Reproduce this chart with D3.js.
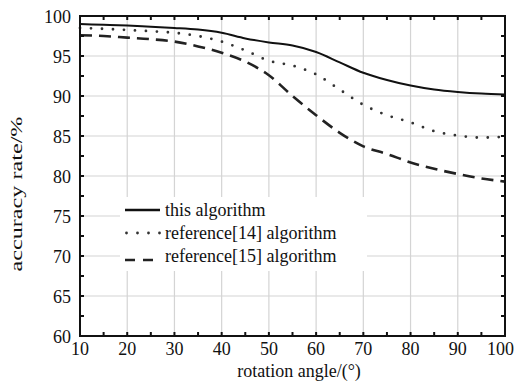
<!DOCTYPE html>
<html>
<head>
<meta charset="utf-8">
<script src="https://cdn.jsdelivr.net/npm/d3@7"></script>
<style>
  body { margin: 0; background: #fff; }
</style>
</head>
<body>
<div id="chart"></div>
<script>
// rotation angle (deg)
const angles = [10, 15, 20, 25, 30, 35, 40, 45, 50, 55, 60, 65, 70, 75, 80, 85, 90, 95, 100]
// accuracy rate (%)
const thisAlgo = [99.0, 98.9, 98.8, 98.65, 98.5, 98.3, 97.9, 97.2, 96.7, 96.3, 95.5, 94.2, 92.9, 92.0, 91.3, 90.8, 90.5, 90.3, 90.2]
const ref14 = [98.5, 98.4, 98.25, 98.1, 97.9, 97.5, 96.8, 95.7, 94.4, 93.8, 92.7, 90.8, 88.9, 87.6, 86.7, 85.6, 85.05, 84.8, 84.9]
const ref15 = [97.6, 97.5, 97.3, 97.1, 96.8, 96.2, 95.4, 94.3, 92.6, 90.0, 87.6, 85.4, 83.7, 82.75, 81.7, 80.9, 80.25, 79.7, 79.3]

const xTicks = [10, 20, 30, 40, 50, 60, 70, 80, 90, 100]
const yTicks = [60, 65, 70, 75, 80, 85, 90, 95, 100]
const seriesNames = ["this algorithm", "reference[14] algorithm", "reference[15] algorithm"]

const FONT = "Liberation Serif"

const W = 515, H = 383
const margin = { top: 16, right: 10, bottom: 47, left: 80 }
const width = W - margin.left - margin.right
const height = H - margin.top - margin.bottom

const svg = d3.select("#chart").append("svg")
    .attr("width", W)
    .attr("height", H)

const g = svg.append("g")
    .attr("transform", "translate(" + margin.left + "," + margin.top + ")")

const x = d3.scaleLinear().domain([10, 100]).range([0, width])
const y = d3.scaleLinear().domain([60, 100]).range([height, 0])

// grid
g.append("g").selectAll("line")
    .data(xTicks)
    .enter().append("line")
    .attr("x1", d => x(d)).attr("x2", d => x(d))
    .attr("y1", 0).attr("y2", height)
    .attr("stroke", "#d4d4d4").attr("stroke-width", 1.2)
g.append("g").selectAll("line")
    .data(yTicks)
    .enter().append("line")
    .attr("x1", 0).attr("x2", width)
    .attr("y1", d => y(d)).attr("y2", d => y(d))
    .attr("stroke", "#d4d4d4").attr("stroke-width", 1.2)

// series lines
const line = d3.line()
    .x((d, i) => x(angles[i]))
    .y(d => y(d))
    .curve(d3.curveMonotoneX)

const styles = [
    { data: thisAlgo, width: 2, dash: null, cap: "butt", color: "#111" },
    { data: ref14, width: 2.8, dash: "0 11", cap: "round", color: "#333" },
    { data: ref15, width: 2.6, dash: "12 7", cap: "butt", color: "#222" }
]

styles.forEach(s => {
    g.append("path")
        .datum(s.data)
        .attr("d", line)
        .attr("fill", "none")
        .attr("stroke", s.color)
        .attr("stroke-width", s.width)
        .attr("stroke-linecap", s.cap)
        .attr("stroke-dasharray", s.dash)
})

// legend (white box covering grid)
const leg = g.append("g")
leg.append("rect")
    .attr("x", 40).attr("y", 181)
    .attr("width", 247).attr("height", 74)
    .attr("fill", "#fff")
const rowY = [194, 217, 240]
styles.forEach((s, i) => {
    const off = i == 2 ? 4 : 0
    leg.append("line")
        .attr("x1", i == 1 ? 46.5 : 45).attr("x2", 80)
        .attr("y1", rowY[i] + off).attr("y2", rowY[i] + off)
        .attr("stroke", s.color)
        .attr("stroke-width", i == 0 ? 2.6 : s.width)
        .attr("stroke-linecap", s.cap)
        .attr("stroke-dasharray", s.dash == "12 7" ? "10 8" : s.dash)
    leg.append("text")
        .attr("x", 85).attr("y", rowY[i] + 6)
        .attr("font-family", FONT)
        .attr("font-size", 18)
        .attr("fill", "#111")
        .text(seriesNames[i])
})

// frame
g.append("rect")
    .attr("x", 0).attr("y", 0)
    .attr("width", width).attr("height", height)
    .attr("fill", "none")
    .attr("stroke", "#111").attr("stroke-width", 2)

// inward ticks on all four sides
const xMinor = d3.range(15, 100, 10)
const yMinor = d3.range(62.5, 100, 5)
const tickLen = 4
const tg = g.append("g").attr("stroke", "#111").attr("stroke-width", 2)
xTicks.concat(xMinor).forEach(v => {
    tg.append("line").attr("x1", x(v)).attr("x2", x(v)).attr("y1", height).attr("y2", height - tickLen)
    tg.append("line").attr("x1", x(v)).attr("x2", x(v)).attr("y1", 0).attr("y2", tickLen)
})
yTicks.concat(yMinor).forEach(v => {
    tg.append("line").attr("x1", 0).attr("x2", tickLen).attr("y1", y(v)).attr("y2", y(v))
    tg.append("line").attr("x1", width).attr("x2", width - tickLen).attr("y1", y(v)).attr("y2", y(v))
})

// tick labels
g.append("g").selectAll("text")
    .data(xTicks)
    .enter().append("text")
    .attr("x", d => d == 100 ? W - margin.left - 1 : x(d))
    .attr("y", height + 19)
    .attr("text-anchor", d => d == 100 ? "end" : "middle")
    .attr("font-family", FONT)
    .attr("font-size", 18)
    .attr("fill", "#111")
    .text(d => d)
g.append("g").selectAll("text")
    .data(yTicks)
    .enter().append("text")
    .attr("x", -9)
    .attr("y", d => y(d) + 7)
    .attr("text-anchor", "end")
    .attr("font-family", FONT)
    .attr("font-size", 18)
    .attr("fill", "#111")
    .text(d => d)

// axis titles
svg.append("text")
    .attr("x", 299).attr("y", 377)
    .attr("text-anchor", "middle")
    .attr("font-family", FONT)
    .attr("font-size", 18)
    .attr("fill", "#111")
    .text("rotation angle/(°)")
svg.append("text")
    .attr("transform", "translate(22,194) rotate(-90)")
    .attr("text-anchor", "middle")
    .attr("textLength", 155)
    .attr("lengthAdjust", "spacingAndGlyphs")
    .attr("font-family", FONT)
    .attr("font-size", 16)
    .attr("fill", "#111")
    .text("accuracy rate/%")
</script>
</body>
</html>
